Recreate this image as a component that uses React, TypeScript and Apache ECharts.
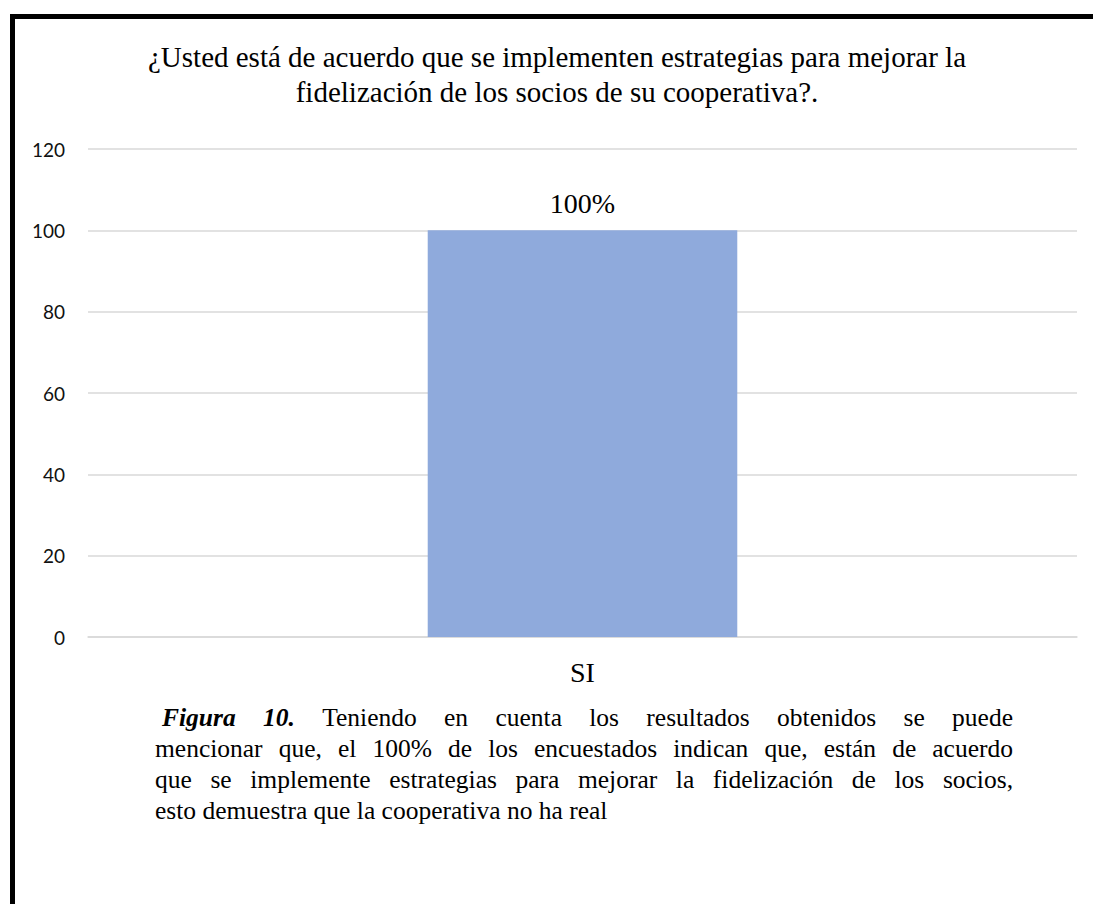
import React, { useEffect, useRef } from "react";
import * as echarts from "echarts";

const categories = ["SI"];
const values = [100];
const titleLines = [
  "¿Usted está de acuerdo que se implementen estrategias para mejorar la",
  "fidelización de los socios de su cooperativa?.",
];
const captionLines = [
  "Figura 10. Teniendo en cuenta los resultados obtenidos se puede",
  "mencionar que, el 100% de los encuestados indican que, están de acuerdo",
  "que se implemente estrategias para mejorar la fidelización de los socios,",
  "esto demuestra que la cooperativa no ha real",
];
const boldItalicWords = ["Figura", "10."];

const SERIF = '"Liberation Serif", "Times New Roman", serif';
const CAP_SIZE = 25.5;

function buildCaption(): any[] {
  const canvas = document.createElement("canvas");
  const ctx = canvas.getContext("2d")!;
  const left = 155;
  const right = 1013;
  const top0 = 717;
  const step = 31;
  const out: any[] = [];
  captionLines.forEach((line, li) => {
    const words = line.split(" ");
    const isLast = li === captionLines.length - 1;
    const startX = li === 0 ? 162 : left;
    const widths = words.map((w, wi) => {
      const bi = li === 0 && wi < 2 && boldItalicWords.includes(w);
      ctx.font = `${bi ? "italic bold " : ""}${CAP_SIZE}px ${SERIF}`;
      return ctx.measureText(w).width;
    });
    ctx.font = `${CAP_SIZE}px ${SERIF}`;
    const spaceW = ctx.measureText(" ").width;
    const total = widths.reduce((a, b) => a + b, 0);
    let gap = isLast ? spaceW : (right - startX - total) / (words.length - 1);
    if (gap < spaceW * 0.6) gap = spaceW * 0.6;
    let x = startX;
    words.forEach((w, wi) => {
      const bi = li === 0 && wi < 2 && boldItalicWords.includes(w);
      out.push({
        type: "text",
        x,
        y: top0 + li * step,
        style: {
          text: w,
          font: `${bi ? "italic bold " : ""}${CAP_SIZE}px ${SERIF}`,
          fill: "#000",
          verticalAlign: "middle",
          align: "left",
        },
      });
      x += widths[wi] + gap;
    });
  });
  return out;
}

export default function App() {
  const ref = useRef<HTMLDivElement>(null);
  useEffect(() => {
    if (!ref.current) return;
    const chart = echarts.init(ref.current, null, { renderer: "svg" });
    chart.setOption({
      animation: false,
      backgroundColor: "#fff",
      grid: { left: 88, right: 16, top: 149, bottom: 267 },
      xAxis: {
        type: "category",
        data: categories,
        axisLine: { show: true, lineStyle: { color: "#d9d9d9", width: 1.5 } },
        axisTick: { show: false },
        axisLabel: {
          fontFamily: SERIF,
          fontSize: 28,
          color: "#000",
          margin: 21,
        },
      },
      yAxis: {
        type: "value",
        min: 0,
        max: 120,
        interval: 20,
        axisLine: { show: false },
        axisTick: { show: false },
        splitLine: { lineStyle: { color: "#d9d9d9", width: 1.5 } },
        axisLabel: {
          fontFamily: "Lato, Carlito, sans-serif",
          fontSize: 19,
          color: "#111",
          margin: 23,
        },
      },
      series: [
        {
          type: "bar",
          data: values,
          barWidth: "31.3%",
          itemStyle: { color: "#8FAADC" },
          label: {
            show: true,
            position: "top",
            distance: 13,
            formatter: "{c}%",
            fontFamily: SERIF,
            fontSize: 28,
            color: "#000",
          },
        },
      ],
      graphic: [
        { type: "rect", shape: { x: 10, y: 14, width: 5, height: 890 }, style: { fill: "#000" } },
        { type: "rect", shape: { x: 10, y: 14, width: 1083, height: 5 }, style: { fill: "#000" } },
        {
          type: "text",
          x: 557,
          y: 57,
          style: {
            text: titleLines[0],
            font: `29px ${SERIF}`,
            fill: "#000",
            align: "center",
            verticalAlign: "middle",
          },
        },
        {
          type: "text",
          x: 557,
          y: 92,
          style: {
            text: titleLines[1],
            font: `29px ${SERIF}`,
            fill: "#000",
            align: "center",
            verticalAlign: "middle",
          },
        },
        ...buildCaption(),
      ],
    });
    return () => chart.dispose();
  }, []);
  return (
    <div
      ref={ref}
      style={{ position: "fixed", left: 0, top: 0, width: 1093, height: 904 }}
    />
  );
}
